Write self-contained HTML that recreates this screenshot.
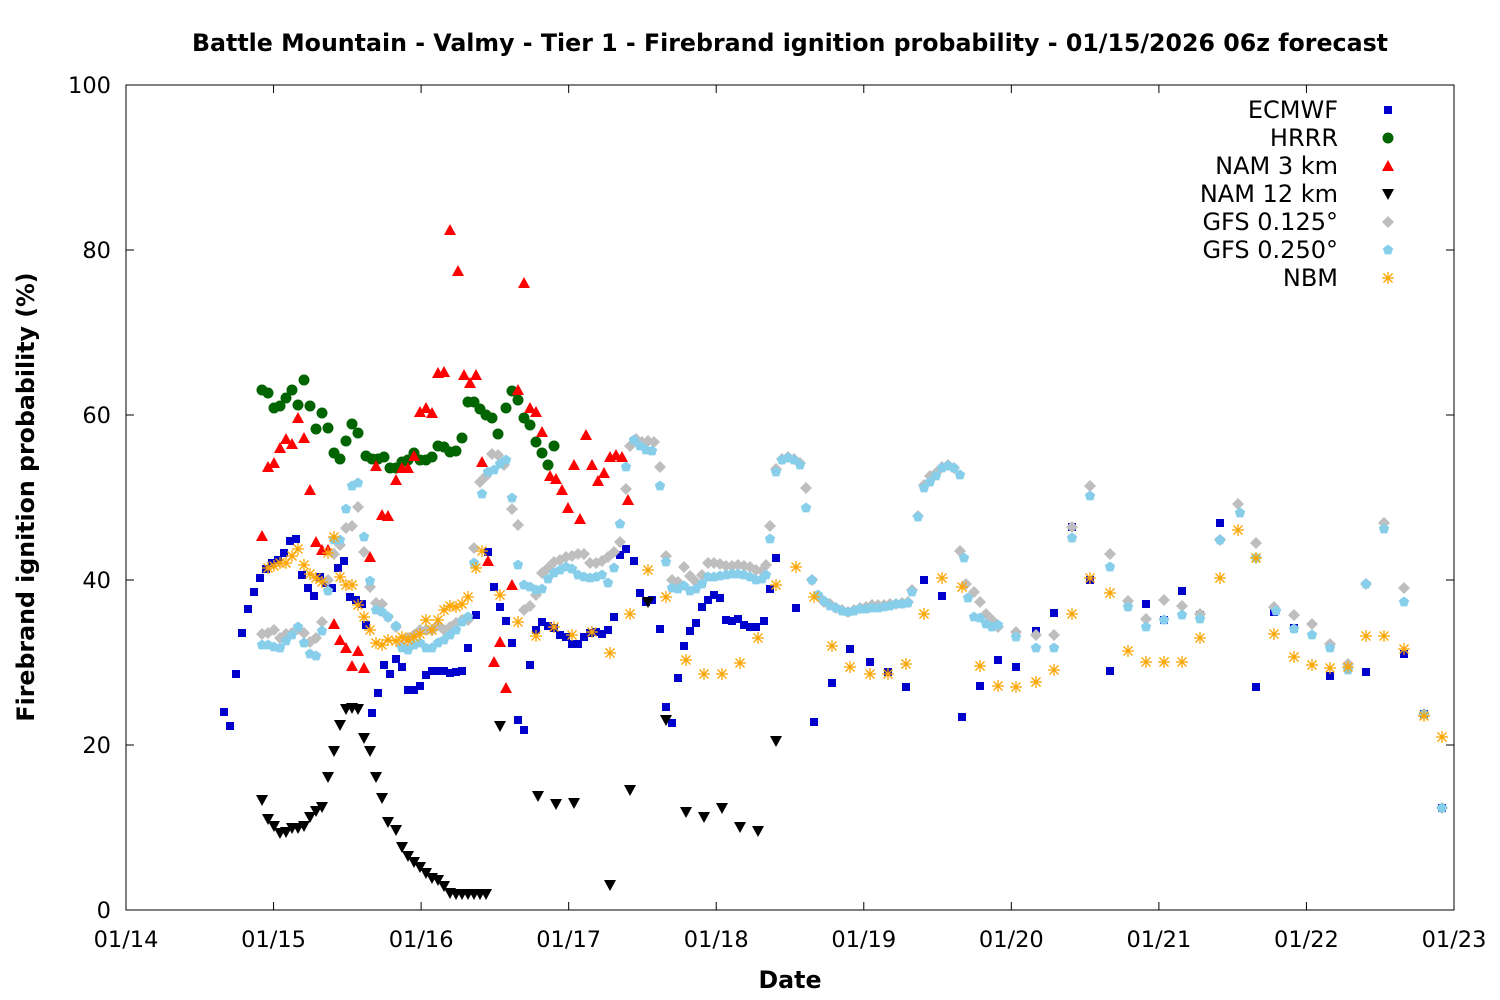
<!DOCTYPE html>
<html><head><meta charset="utf-8"><style>
html,body{margin:0;padding:0;background:#fff;}
svg{display:block;font-family:"DejaVu Sans","Liberation Sans",sans-serif;}
</style></head><body>
<svg id="s" width="1500" height="1000" xmlns="http://www.w3.org/2000/svg">
<rect width="1500" height="1000" fill="#fff"/>
<text x="790" y="51" text-anchor="middle" font-size="23.7" font-weight="bold">Battle Mountain - Valmy - Tier 1 - Firebrand ignition probability - 01/15/2026 06z forecast</text>
<g id="ax" font-size="22.5" fill="#000"></g>
<rect x="126" y="85" width="1328" height="825" fill="none" stroke="#000" stroke-width="1"/>
<text x="790" y="988" text-anchor="middle" font-size="23.7" font-weight="bold">Date</text>
<text transform="translate(34,497) rotate(-90)" text-anchor="middle" font-size="23.7" font-weight="bold">Firebrand ignition probability (%)</text>
<g id="pts"></g>
<g font-size="24" text-anchor="end">
<text x="1338" y="118">ECMWF</text>
<text x="1338" y="146">HRRR</text>
<text x="1338" y="174">NAM 3 km</text>
<text x="1338" y="202">NAM 12 km</text>
<text x="1338" y="230">GFS 0.125°</text>
<text x="1338" y="258">GFS 0.250°</text>
<text x="1338" y="286">NBM</text>
</g>
</svg>
<script>
const NS="http://www.w3.org/2000/svg";
const ax=document.getElementById('ax');
function el(t,a,p){const e=document.createElementNS(NS,t);for(const k in a)e.setAttribute(k,a[k]);(p||ax).appendChild(e);return e;}
for(let i=0;i<=5;i++){const y=910-i*165;
 el('line',{x1:126,x2:134,y1:y,y2:y,stroke:'#000'});el('line',{x1:1454,x2:1446,y1:y,y2:y,stroke:'#000'});
 const t=el('text',{x:111,y:y+8,'text-anchor':'end'});t.textContent=i*20;}
const days=['01/14','01/15','01/16','01/17','01/18','01/19','01/20','01/21','01/22','01/23'];
for(let i=0;i<10;i++){const x=126+i*1328/9;
 el('line',{x1:x,x2:x,y1:910,y2:902,stroke:'#000'});el('line',{x1:x,x2:x,y1:85,y2:93,stroke:'#000'});
 const t=el('text',{x:x,y:947,'text-anchor':'middle'});t.textContent=days[i];}
const P=document.getElementById('pts');
function parse(s){return s.trim().split(/\)\s*,\s*\(/).map(q=>q.replace(/[()]/g,'').split(',').map(Number));}
function sq(x,y,c){el('rect',{x:x-4,y:y-4,width:8,height:8,fill:c},P);}
function ci(x,y,c){el('circle',{cx:x,cy:y,r:5.5,fill:c},P);}
function tu(x,y,c){el('polygon',{points:`${x},${y-6} ${x-6},${y+5} ${x+6},${y+5}`,fill:c},P);}
function td(x,y,c){el('polygon',{points:`${x},${y+6} ${x-6},${y-5} ${x+6},${y-5}`,fill:c},P);}
function di(x,y,c){el('polygon',{points:`${x},${y-6} ${x+6},${y} ${x},${y+6} ${x-6},${y}`,fill:c},P);}
function pe(x,y,c){let p=[];for(let k=0;k<5;k++){const a=-Math.PI/2+k*2*Math.PI/5;p.push((x+5.5*Math.cos(a)).toFixed(1)+','+(y+5.5*Math.sin(a)).toFixed(1));}el('polygon',{points:p.join(' '),fill:c},P);}
function as(x,y,c){const g={stroke:c,'stroke-width':1.3};el('line',Object.assign({x1:x-6,x2:x+6,y1:y,y2:y},g),P);el('line',Object.assign({x1:x,x2:x,y1:y-6,y2:y+6},g),P);el('line',Object.assign({x1:x-4.5,x2:x+4.5,y1:y-4.5,y2:y+4.5},g),P);el('line',Object.assign({x1:x-4.5,x2:x+4.5,y1:y+4.5,y2:y-4.5},g),P);}
const D={
ec:`(224,712),(230,726),(236,674),(242,633),(248,609),(254,592),(260,578),(266,569),(272,563),(278,560),(284,553),(290,541),(296,539),(302,575),(308,588),(314,596),(320,577),(326,583),(332,588),(338,568),(344,561),(350,597),(356,600),(362,604),(366,625),(372,713),(378,693),(384,665),(390,674),(396,659),(402,667),(408,690),(414,690),(420,686),(426,675),(432,671),(438,671),(444,671),(450,673),(456,672),(462,671),(468,648),(476,615),(488,552),(494,587),(500,607),(506,621),(512,643),(518,720),(524,730),(530,665),(536,630),(542,622),(548,626),(554,628),(560,635),(566,637),(572,644),(578,644),(584,637),(590,633),(596,632),(602,634),(608,630),(614,617),(620,555),(626,549),(634,561),(640,593),(646,602),(652,600),(660,629),(666,707),(672,723),(678,678),(684,646),(690,631),(696,623),(702,607),(708,600),(714,595),(720,598),(726,620),(732,621),(738,619),(744,625),(750,627),(756,627),(764,621),(770,589),(776,558),(796,608),(814,722),(832,683),(850,649),(870,662),(888,672),(906,687),(924,580),(942,596),(962,717),(980,686),(998,660),(1016,667),(1036,631),(1054,613),(1072,527),(1090,580),(1110,671),(1146,604),(1164,620),(1182,591),(1200,615),(1220,523),(1256,687),(1274,612),(1294,628),(1330,676),(1366,672),(1404,654),(1424,714),(1442,808),(1388,110)`,
hr:`(262,390),(268,393),(274,408),(280,406),(286,398),(292,390),(298,405),(304,380),(310,406),(316,429),(322,413),(328,428),(334,453),(340,459),(346,441),(352,424),(358,433),(366,456),(372,459),(378,459),(384,457),(390,468),(396,468),(402,462),(408,460),(414,453),(420,460),(426,460),(432,457),(438,446),(444,447),(450,452),(456,451),(462,438),(468,402),(474,402),(480,409),(486,415),(492,418),(498,434),(506,408),(512,391),(518,400),(524,418),(530,425),(536,442),(542,453),(548,465),(554,446),(1388,138)`,
n3:`(262,536),(268,467),(274,463),(280,448),(286,439),(292,444),(298,418),(304,438),(310,490),(316,542),(322,550),(328,550),(334,624),(340,640),(346,648),(352,666),(358,651),(364,668),(370,557),(376,466),(382,515),(388,516),(396,480),(402,468),(408,468),(414,456),(420,412),(426,408),(432,413),(438,373),(444,372),(450,230),(458,271),(464,375),(470,383),(476,375),(482,462),(488,561),(494,662),(500,642),(506,688),(512,585),(518,390),(524,283),(530,408),(536,412),(542,432),(550,476),(556,479),(562,490),(568,508),(574,465),(580,519),(586,435),(592,465),(598,481),(604,473),(610,457),(616,455),(622,457),(628,500),(1388,166)`,
n12:`(262,800),(268,819),(274,826),(280,833),(286,832),(292,828),(298,828),(304,826),(310,817),(316,811),(322,807),(328,777),(334,751),(340,725),(346,709),(352,708),(358,709),(364,738),(370,751),(376,777),(382,798),(388,822),(396,830),(402,847),(408,856),(414,862),(420,867),(426,873),(432,878),(438,880),(444,886),(450,893),(456,894),(462,894),(468,894),(474,894),(480,894),(486,894),(500,726),(538,796),(556,804),(574,803),(610,885),(630,790),(648,602),(666,720),(686,812),(704,817),(722,808),(740,827),(758,831),(776,741),(1388,194)`,
g1:`(262,634),(268,633),(274,630),(280,638),(286,634),(292,633),(298,629),(304,633),(310,642),(316,638),(322,622),(328,580),(334,554),(340,545),(346,528),(352,526),(358,507),(364,552),(370,587),(376,603),(382,604),(388,617),(396,627),(402,645),(408,638),(414,635),(420,630),(426,630),(432,630),(438,625),(444,630),(450,627),(456,623),(462,620),(468,620),(474,548),(480,482),(486,476),(492,454),(498,455),(504,465),(512,509),(518,525),(524,610),(530,606),(536,595),(542,573),(548,568),(554,562),(560,560),(566,557),(572,556),(578,554),(584,554),(590,563),(596,563),(602,561),(608,557),(614,552),(620,542),(626,489),(630,446),(636,439),(642,442),(648,441),(654,442),(660,467),(666,556),(672,580),(678,582),(684,567),(690,576),(696,582),(702,575),(708,563),(714,563),(720,564),(726,566),(732,566),(738,565),(744,566),(750,567),(756,570),(762,571),(766,565),(770,526),(776,469),(782,459),(788,457),(794,459),(800,463),(806,488),(812,580),(818,596),(824,602),(830,604),(836,608),(842,610),(848,612),(854,610),(860,608),(866,607),(872,605),(878,605),(884,605),(890,604),(896,604),(902,603),(908,602),(912,590),(918,516),(924,485),(930,476),(936,473),(942,467),(948,465),(954,468),(960,551),(966,584),(974,592),(980,602),(986,614),(992,620),(998,627),(1016,632),(1036,635),(1054,635),(1072,527),(1090,486),(1110,554),(1128,601),(1146,619),(1164,600),(1182,606),(1200,614),(1220,540),(1238,504),(1256,543),(1274,607),(1294,615),(1312,624),(1330,644),(1348,664),(1366,584),(1384,523),(1404,588),(1424,714),(1442,808),(1388,222)`,
g2:`(262,645),(268,645),(274,647),(280,648),(286,641),(292,635),(298,627),(304,643),(310,654),(316,656),(322,631),(328,591),(334,540),(340,540),(346,509),(352,486),(358,483),(364,537),(370,581),(376,610),(382,612),(388,617),(396,626),(402,648),(408,650),(414,645),(420,643),(426,648),(432,648),(438,643),(444,640),(450,635),(456,630),(462,622),(468,617),(474,563),(482,494),(488,472),(494,470),(500,464),(506,460),(512,498),(518,565),(524,585),(530,587),(536,590),(542,589),(548,579),(554,573),(560,570),(566,567),(572,569),(578,575),(584,577),(590,578),(596,577),(602,575),(608,583),(614,568),(620,524),(626,467),(634,440),(640,446),(646,450),(652,451),(660,486),(666,562),(672,588),(678,589),(684,586),(690,591),(696,589),(702,584),(708,577),(714,577),(720,576),(726,575),(732,574),(738,574),(744,575),(750,577),(756,580),(762,579),(766,575),(770,539),(776,472),(782,460),(788,458),(794,460),(800,465),(806,508),(812,580),(818,595),(824,601),(830,606),(836,608),(842,611),(848,612),(854,611),(860,609),(866,609),(872,608),(878,608),(884,607),(890,606),(896,604),(902,604),(908,603),(912,592),(918,517),(924,488),(930,482),(936,476),(942,468),(948,466),(954,468),(960,475),(964,558),(968,598),(974,617),(980,618),(986,624),(992,627),(998,625),(1016,637),(1036,648),(1054,648),(1072,538),(1090,496),(1110,567),(1128,607),(1146,627),(1164,620),(1182,615),(1200,619),(1220,540),(1240,513),(1256,558),(1276,611),(1294,629),(1312,635),(1330,648),(1348,670),(1366,584),(1384,529),(1404,602),(1424,714),(1442,808),(1388,250)`,
nb:`(268,568),(274,566),(280,563),(286,563),(292,556),(298,549),(304,565),(310,574),(316,578),(322,582),(328,553),(334,537),(340,577),(346,585),(352,585),(358,605),(364,617),(370,630),(376,643),(382,645),(388,640),(396,641),(402,637),(408,640),(414,637),(420,634),(426,620),(432,630),(438,620),(444,610),(450,606),(456,607),(462,604),(468,597),(476,568),(482,551),(500,595),(518,622),(536,636),(554,627),(572,635),(592,632),(610,653),(630,614),(648,570),(666,597),(686,660),(704,674),(722,674),(740,663),(758,638),(776,585),(796,567),(814,597),(832,646),(850,667),(870,674),(888,674),(906,664),(924,614),(942,578),(962,587),(980,666),(998,686),(1016,687),(1036,682),(1054,670),(1072,614),(1090,578),(1110,593),(1128,651),(1146,662),(1164,662),(1182,662),(1200,638),(1220,578),(1238,530),(1256,558),(1274,634),(1294,657),(1312,665),(1330,668),(1348,667),(1366,636),(1384,636),(1404,649),(1424,716),(1442,737),(1388,278)`};
parse(D.ec).forEach(p=>sq(p[0],p[1],'#0000cc'));
parse(D.hr).forEach(p=>ci(p[0],p[1],'#006400'));
parse(D.n3).forEach(p=>tu(p[0],p[1],'#ff0000'));
parse(D.n12).forEach(p=>td(p[0],p[1],'#000'));
parse(D.g1).forEach(p=>di(p[0],p[1],'#bebebe'));
parse(D.g2).forEach(p=>pe(p[0],p[1],'#87ceeb'));
parse(D.nb).forEach(p=>as(p[0],p[1],'#ffa500'));
</script>
</body></html>
